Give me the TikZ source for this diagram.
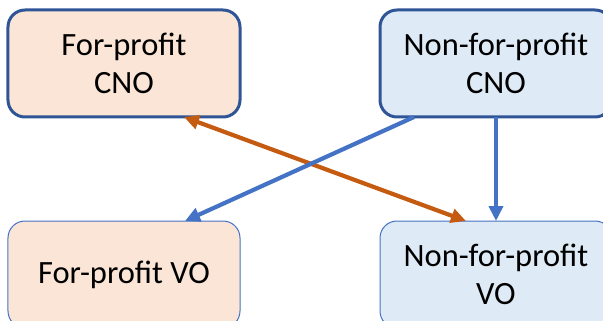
\documentclass[tikz,border=0pt]{standalone}
\usepackage{fontspec}
\setmainfont{Carlito}
\usepackage{tikz}
\usetikzlibrary{arrows.meta, positioning}

\definecolor{peach}{RGB}{251,229,214}
\definecolor{paleblue}{RGB}{222,235,247}
\definecolor{darkframe}{RGB}{47,85,151}
\definecolor{lightframe}{RGB}{68,114,196}
\definecolor{rust}{RGB}{197,90,17}

\begin{document}
\begin{tikzpicture}[node distance=104pt and 140pt, >={Triangle[length=15pt, width=14pt]},
    box/.style={rectangle, rounded corners=17pt, minimum width=232pt, minimum height=107pt,
      inner sep=0pt, outer sep=0pt, align=center, font=\fontsize{32.5}{38}\selectfont},
    cno/.style={box, draw=darkframe, line width=3pt},
    vo/.style={box, draw=lightframe, line width=1pt},
    link/.style={line width=4.2pt}]

    \useasboundingbox (-124pt,63.5pt) rectangle (479pt,-257.5pt);

    \node[cno, fill=peach] (fpcno) {For-profit\\CNO};
    \node[cno, fill=paleblue, right=of fpcno] (nfpcno) {Non-for-profit\\CNO};
    \node[vo, fill=peach, below=of fpcno] (fpvo) {For-profit VO};
    \node[vo, fill=paleblue, below=of nfpcno] (nfpvo) {Non-for-profit\\VO};

    \draw[link, rust, <->] ([xshift=60pt]fpcno.south) -- ([xshift=-30pt]nfpvo.north);
    \draw[link, lightframe, ->] ([xshift=-82pt]nfpcno.south) -- ([xshift=61pt]fpvo.north);
    \draw[link, lightframe, ->] (nfpcno.south) -- (nfpvo.north);
\end{tikzpicture}
\end{document}
